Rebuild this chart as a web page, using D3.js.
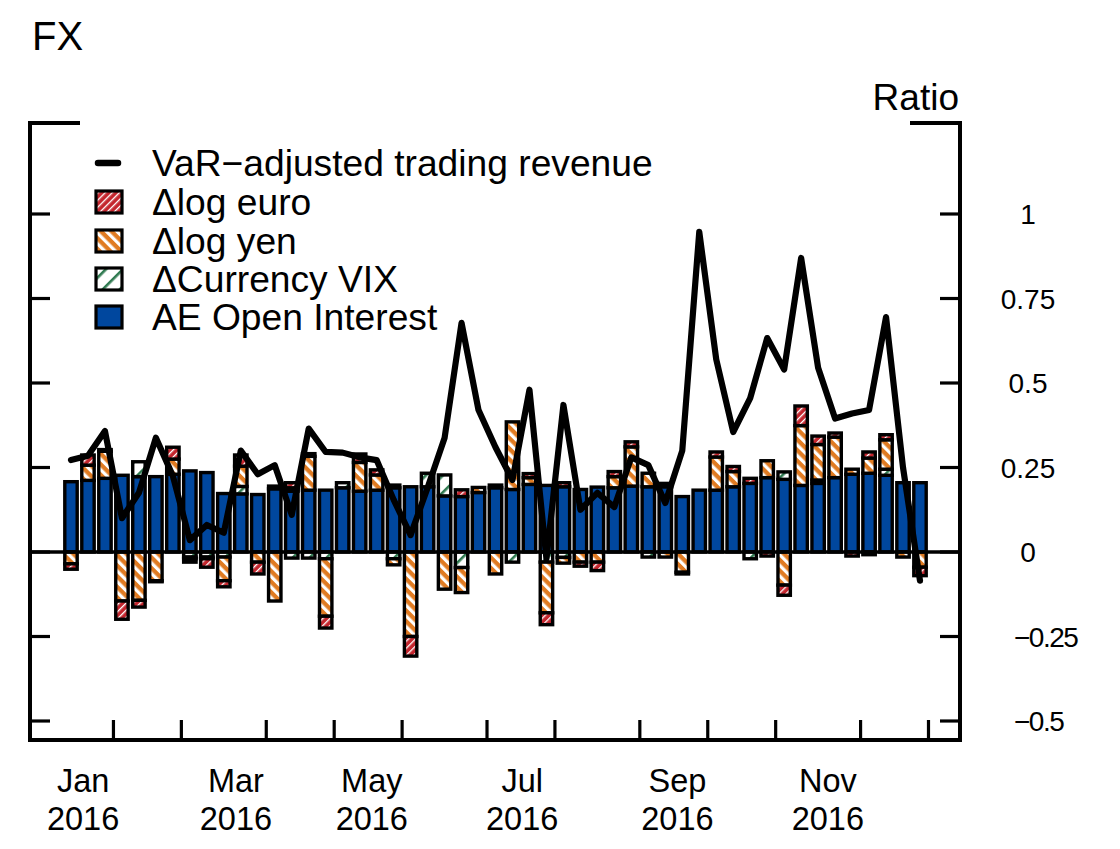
<!DOCTYPE html>
<html><head><meta charset="utf-8">
<script src="https://cdn.jsdelivr.net/npm/d3@7"></script>
<style>body{margin:0;background:#fff} svg{display:block} text{font-family:"Liberation Sans",Arial,Helvetica,sans-serif;fill:#000}</style>
</head><body><svg id="c" width="1120" height="849"></svg>
<script>
// Weekly observations (Wednesdays), 2016
const weeks = ["2016-01-13","2016-01-20","2016-01-27","2016-02-03","2016-02-10","2016-02-17","2016-02-24",
"2016-03-02","2016-03-09","2016-03-16","2016-03-23","2016-03-30","2016-04-06","2016-04-13","2016-04-20","2016-04-27",
"2016-05-04","2016-05-11","2016-05-18","2016-05-25","2016-06-01","2016-06-08","2016-06-15","2016-06-22","2016-06-29",
"2016-07-06","2016-07-13","2016-07-20","2016-07-27","2016-08-03","2016-08-10","2016-08-17","2016-08-24","2016-08-31",
"2016-09-07","2016-09-14","2016-09-21","2016-09-28","2016-10-05","2016-10-12","2016-10-19","2016-10-26",
"2016-11-02","2016-11-09","2016-11-16","2016-11-23","2016-11-30","2016-12-07","2016-12-14","2016-12-21","2016-12-28"];

const aeOpenInterest = [0.208,0.212,0.218,0.227,0.223,0.223,0.230,0.240,0.235,0.173,0.172,0.170,0.187,0.180,0.183,0.183,
0.190,0.180,0.183,0.190,0.193,0.193,0.166,0.164,0.176,0.190,0.185,0.200,0.197,0.193,0.185,0.192,0.190,0.195,0.193,0.193,
0.164,0.183,0.183,0.193,0.203,0.220,0.215,0.197,0.203,0.220,0.230,0.233,0.227,0.205,0.205];

const dCurrencyVIX = [0,0,0,0,0.044,0,0,-0.015,-0.015,-0.015,0.022,0,0.008,-0.018,-0.018,-0.020,
0.015,0,0,-0.020,0,0.040,0.062,-0.046,0,0,-0.030,0,-0.030,-0.016,0,0,0,0,-0.015,0,
0,0,0,0,-0.020,0,0.022,0,0.010,0,0,-0.008,0.018,0,0];

const dLogYen = [-0.035,0.045,0.080,-0.145,-0.143,-0.085,0.045,-0.005,-0.005,-0.070,0.060,-0.030,-0.145,0.010,0.100,-0.170,
0,0.085,0.045,-0.018,-0.250,0,-0.110,-0.074,0.015,-0.065,0.200,0.020,-0.150,-0.017,-0.030,-0.030,0.033,0.116,0.040,-0.015,
-0.060,0,0.098,0.045,0,0.050,-0.098,0.177,0.105,0.120,0.015,0.045,0.087,-0.015,-0.045];

const dLogEuro = [-0.016,0.030,0.005,-0.054,-0.020,-0.003,0.035,-0.010,-0.025,-0.018,0.033,-0.035,0,0.015,0.008,-0.035,
0,0.025,0.015,0.008,-0.058,0,0,0.020,0,0.008,0,0.012,-0.035,0.012,-0.012,-0.025,0.015,0.015,0,0.010,
-0.005,0,0.015,0.015,0.015,-0.012,-0.030,0.058,0.025,0.012,-0.012,0.018,0.015,0,-0.025];

const varAdjRevenue = [0.272,0.285,0.358,0.100,0.175,0.338,0.225,0.035,0.080,0.057,0.300,0.230,0.257,0.110,0.365,0.296,
0.294,0.280,0.272,0.155,0.050,0.190,0.337,0.678,0.420,0.310,0.213,0.480,-0.020,0.435,0.125,0.175,0.133,0.280,0.257,0.145,
0.300,0.947,0.570,0.355,0.455,0.633,0.540,0.870,0.545,0.395,0.410,0.420,0.695,0.250,-0.085];

const yTicks = [-0.5,-0.25,0,0.25,0.5,0.75,1];
const yTickLabels = ["\u22120.5","\u22120.25","0","0.25","0.5","0.75","1"];
const xLabelMonths = ["Jan","Mar","May","Jul","Sep","Nov"];
const xLabelYears = ["2016","2016","2016","2016","2016","2016"];
const xLabelDates = ["2016-01-18","2016-03-21","2016-05-16","2016-07-17","2016-09-19","2016-11-20"];

const seriesNames = ["VaR\u2212adjusted trading revenue","\u0394log euro","\u0394log yen","\u0394Currency VIX","AE Open Interest"];

// ---------------------------------------------------------------
const svg = d3.select("#c");
const frame = {left:30, right:960, top:123, bottom:740};
const parse = d3.timeParse("%Y-%m-%d");
const dates = weeks.map(parse);

const x = d3.scaleLinear().domain([0, weeks.length - 1]).range([71, 920]);
const y = d3.scaleLinear().domain([-0.5, 1]).range([721, 214]);
const dateToIdx = d3.scaleTime().domain(dates).range(d3.range(dates.length));

const colors = {oi:"#00479e", euro:"#c4262e", yen:"#e07b22", vix:"#2f7a50"};

const defs = svg.append("defs");
function stripes(id, bg, fg, period, lw, angle){
  const p = defs.append("pattern").attr("id", id).attr("patternUnits","userSpaceOnUse")
    .attr("width", period).attr("height", period).attr("patternTransform", `rotate(${angle})`);
  p.append("rect").attr("width", period).attr("height", period).attr("fill", bg);
  p.append("rect").attr("x", 0).attr("y", 0).attr("width", lw).attr("height", period).attr("fill", fg);
}
stripes("pEuro", colors.euro, "#fff", 5, 1.3, 45);
stripes("pYen", colors.yen, "#fff", 7.5, 3.2, -45);
stripes("pVix", "#fff", colors.vix, 12, 2.6, 45);

const fills = {oi: colors.oi, vix:"url(#pVix)", yen:"url(#pYen)", euro:"url(#pEuro)"};

const rows = weeks.map((w,i) => ({i, oi: aeOpenInterest[i], vix: dCurrencyVIX[i], yen: dLogYen[i], euro: dLogEuro[i]}));
const keys = ["oi","vix","yen","euro"];
const stack = d3.stack().keys(keys).order(d3.stackOrderNone).offset(d3.stackOffsetDiverging)(rows);

const barW = 12.4;
const gBars = svg.append("g");
stack.forEach(s => {
  gBars.selectAll(null).data(s.filter(d => Math.abs(d[1]-d[0]) > 1e-9)).join("rect")
    .attr("x", d => x(d.data.i) - barW/2)
    .attr("y", d => y(Math.max(d[0], d[1])))
    .attr("width", barW)
    .attr("height", d => Math.abs(y(d[0]) - y(d[1])))
    .attr("fill", fills[s.key])
    .attr("stroke", "#000").attr("stroke-width", 3.4);
});

svg.append("line").attr("x1", frame.left).attr("x2", frame.right).attr("y1", y(0)).attr("y2", y(0))
  .attr("stroke", "#000").attr("stroke-width", 3.4);

svg.append("path").datum(varAdjRevenue)
  .attr("d", d3.line().x((d,i) => x(i)).y(d => y(d)))
  .attr("fill","none").attr("stroke","#000").attr("stroke-width",6.2)
  .attr("stroke-linejoin","round").attr("stroke-linecap","round");

const fr = svg.append("g").attr("stroke","#000").attr("stroke-width",4).attr("fill","none");
fr.append("path").attr("d", `M${frame.left+48},${frame.top}H${frame.left}V${frame.bottom}H${frame.right}V${frame.top}H${frame.right-48}`)
  .attr("stroke-linecap","square");

const tk = svg.append("g").attr("stroke","#000").attr("stroke-width",3.2);
yTicks.forEach(v => {
  tk.append("line").attr("x1", frame.left).attr("x2", frame.left+20).attr("y1", y(v)).attr("y2", y(v));
  tk.append("line").attr("x1", frame.right-20).attr("x2", frame.right).attr("y1", y(v)).attr("y2", y(v));
});
svg.append("g").attr("font-size",28).selectAll("text").data(yTicks).join("text")
  .attr("x", d => d < 0 ? 1014 : 1028).attr("y", d => y(d)).attr("dy","0.36em")
  .attr("text-anchor", d => d < 0 ? "start" : "middle")
  .attr("letter-spacing", d => d < 0 ? -1.5 : 0)
  .text((d,i) => yTickLabels[i]);

const monthTicks = [];
for (let i = 0; i < dates.length - 1; i++) if (dates[i].getMonth() !== dates[i+1].getMonth()) monthTicks.push(i + 0.5);
monthTicks.push(dates.length - 0.5);
monthTicks.forEach(t => tk.append("line").attr("x1", x(t)).attr("x2", x(t)).attr("y1", frame.bottom).attr("y2", frame.bottom-20));

const xl = svg.append("g").attr("text-anchor","middle").attr("font-size",32.5);
xLabelDates.forEach((ds,k) => {
  const px = x(dateToIdx(parse(ds)));
  xl.append("text").attr("x", px).attr("y", 792).text(xLabelMonths[k]);
  xl.append("text").attr("x", px).attr("y", 830).text(xLabelYears[k]);
});

svg.append("text").attr("x", 32).attr("y", 50).attr("font-size", 40).text("FX");
svg.append("text").attr("x", 959).attr("y", 110).attr("text-anchor","end").attr("font-size", 37).text("Ratio");

const lg = svg.append("g");
const rowY = [163, 202, 241, 279, 317];
lg.append("line").attr("x1",98).attr("x2",118).attr("y1",rowY[0]).attr("y2",rowY[0])
  .attr("stroke","#000").attr("stroke-width",6.5).attr("stroke-linecap","round");
[fills.euro, fills.yen, fills.vix, fills.oi].forEach((f,k) => {
  lg.append("rect").attr("x",96).attr("y",rowY[k+1]-11).attr("width",26).attr("height",22)
    .attr("fill",f).attr("stroke","#000").attr("stroke-width",3.2);
});
seriesNames.forEach((t,k) => lg.append("text").attr("x",152).attr("y",rowY[k]).attr("dy","0.36em")
  .attr("font-size",37.2).text(t));
</script></body></html>
